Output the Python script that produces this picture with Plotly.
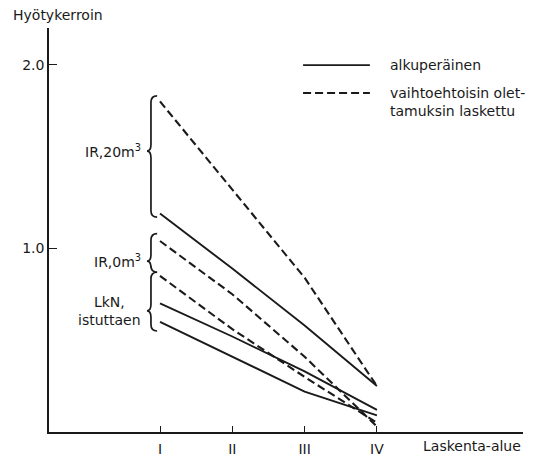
import plotly.graph_objects as go

# ---- data ----
regions = [1, 2, 3, 4]
region_labels = ["I", "II", "III", "IV"]

ir20_orig = [1.19, 0.89, 0.58, 0.25]
ir20_alt = [1.80, 1.32, 0.84, 0.25]
ir0_alt = [1.04, 0.75, 0.41, 0.03]
lkn_alt = [0.85, 0.56, 0.30, 0.05]
lkn_orig_a = [0.70, 0.52, 0.33, 0.12]
lkn_orig_b = [0.60, 0.41, 0.22, 0.09]

y_ticks = [1.0, 2.0]
y_tick_labels = ["1.0", "2.0"]

# brace groups: (label, top, bottom, tip)
groups = [
    ("IR,20m<sup>3</sup>", 1.83, 1.17, 1.53),
    ("IR,0m<sup>3</sup>", 1.08, 0.87, 0.93),
    ("LkN,<br>istuttaen", 0.87, 0.55, 0.66),
]

INK = "#1a1a1a"
FONT = "DejaVu Sans"

fig = go.Figure()

solid = [ir20_orig, lkn_orig_a, lkn_orig_b]
dashed = [ir20_alt, ir0_alt, lkn_alt]
for s in solid:
    fig.add_trace(go.Scatter(x=regions, y=s, mode="lines",
                             line=dict(color=INK, width=1.9), showlegend=False,
                             hoverinfo="skip"))
for s in dashed:
    fig.add_trace(go.Scatter(x=regions, y=s, mode="lines",
                             line=dict(color=INK, width=2.1, dash="8px,4px"),
                             showlegend=False, hoverinfo="skip"))

# braces
xt, xs, xe = 0.82, 0.875, 0.96
r = 0.035
shapes = []
annotations = []
for label, top, bot, tip in groups:
    path = (f"M {xe},{top} Q {xs},{top} {xs},{top - r} "
            f"L {xs},{tip + r} Q {xs},{tip} {xt},{tip} "
            f"Q {xs},{tip} {xs},{tip - r} "
            f"L {xs},{bot + r} Q {xs},{bot} {xe},{bot}")
    shapes.append(dict(type="path", path=path, xref="x", yref="y",
                       line=dict(color=INK, width=1.7)))
    annotations.append(dict(x=0.77, y=tip, xref="x", yref="y", text=label,
                            showarrow=False, xanchor="right", yanchor="middle",
                            align="center",
                            font=dict(family=FONT, size=14, color=INK)))

# legend (manual)
leg = [("alkuperäinen", "solid", 0.908),
       ("vaihtoehtoisin olet-<br>tamuksin laskettu", "8px,4px", 0.839)]
for text, dash, yp in leg:
    shapes.append(dict(type="line", xref="paper", yref="paper",
                       x0=0.536, x1=0.677, y0=yp, y1=yp,
                       line=dict(color=INK, width=1.9, dash=dash)))
    annotations.append(dict(x=0.715, y=yp, xref="paper", yref="paper",
                            text=text, showarrow=False, xanchor="left",
                            yanchor="top" if "<br>" in text else "middle",
                            yshift=10 if "<br>" in text else 0,
                            align="left",
                            font=dict(family=FONT, size=14, color=INK)))

annotations.append(dict(x=-0.08, y=1.032, xref="paper", yref="paper",
                        text="Hyötykerroin", showarrow=False, xanchor="left",
                        yanchor="middle",
                        font=dict(family=FONT, size=14, color=INK)))
annotations.append(dict(x=1.0, y=0, xref="paper", yref="paper",
                        text="Laskenta-alue", showarrow=False, xanchor="right",
                        yanchor="top", yshift=-4,
                        font=dict(family=FONT, size=14, color=INK)))

fig.update_layout(
    width=544, height=456,
    margin=dict(l=49, r=21, t=28, b=24),
    paper_bgcolor="white", plot_bgcolor="white",
    shapes=shapes, annotations=annotations,
    font=dict(family=FONT, size=14, color=INK),
    xaxis=dict(range=[-0.535, 6.02], tickvals=regions, ticktext=region_labels,
               ticks="inside", ticklen=6, tickcolor=INK, tickwidth=1.4,
               showline=True, linecolor=INK, linewidth=1.6, automargin=False,
               showgrid=False, zeroline=False, ticklabelstandoff=3,
               tickfont=dict(family=FONT, size=14, color=INK)),
    yaxis=dict(range=[0, 2.2], tickvals=y_ticks, ticktext=y_tick_labels,
               ticks="inside", ticklen=8, tickcolor=INK, tickwidth=1.4,
               showline=True, linecolor=INK, linewidth=1.6, automargin=False,
               showgrid=False, zeroline=False,
               tickfont=dict(family=FONT, size=14, color=INK)),
)

fig.write_html("out.html")
